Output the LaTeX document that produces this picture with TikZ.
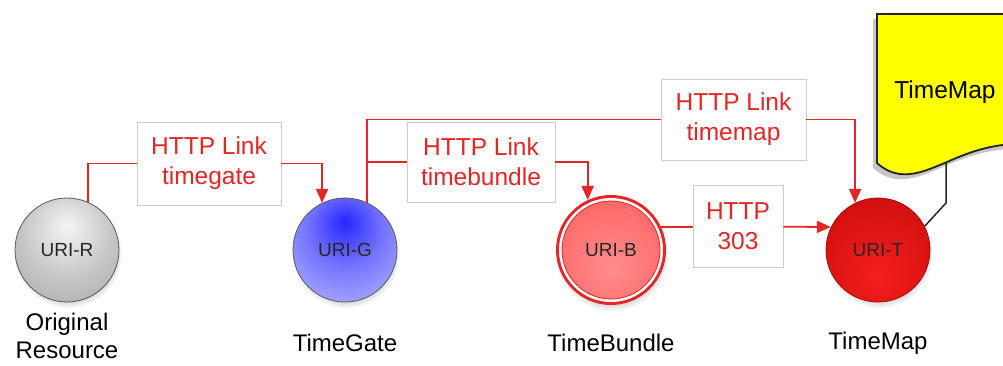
\documentclass[tikz,border=0pt]{standalone}
\usepackage{fontspec}
\setmainfont{Liberation Sans}
\usetikzlibrary{arrows.meta,shadows,calc}
\definecolor{lred}{RGB}{228,38,38}
\definecolor{boxgray}{RGB}{205,205,205}
\definecolor{docyel}{RGB}{255,255,0}
\definecolor{tcen}{RGB}{245,30,30}
\definecolor{tmid}{RGB}{215,18,18}
\definecolor{tedge}{RGB}{170,8,8}
\pgfdeclareradialshading{grayball}{\pgfpoint{0bp}{12bp}}{color(0bp)=(white!92!gray); color(22bp)=(gray!45); color(50bp)=(gray!80); color(70bp)=(gray!88)}
\pgfdeclareradialshading{blueball}{\pgfpoint{0bp}{14bp}}{color(0bp)=(blue!85!white); color(18bp)=(blue!55!white); color(45bp)=(blue!22!white); color(70bp)=(blue!18!white)}
\pgfdeclareradialshading{pinkball}{\pgfpoint{0bp}{-10bp}}{color(0bp)=(red!45!white); color(30bp)=(red!58!white); color(50bp)=(red!68!white); color(70bp)=(red!70!white)}
\pgfdeclareradialshading{redball}{\pgfpoint{0bp}{-14bp}}{color(0bp)=(tcen); color(28bp)=(tmid); color(55bp)=(tedge); color(70bp)=(tedge)}
\tikzset{
  uri/.style={circle, minimum size=104pt, inner sep=0pt, draw=gray!70!black, line width=0.8pt,
              font=\fontsize{19}{21}\selectfont, text=black!85,
              circular drop shadow={shadow xshift=1pt, shadow yshift=-4pt, shadow scale=1.04, opacity=0.35}},
  lbox/.style={rectangle, draw=boxgray, line width=0.8pt, fill=white, text=lred, align=center,
               font=\fontsize{24.5}{30}\selectfont, inner sep=0pt},
  lbl/.style={align=center, font=\fontsize{24}{30}\selectfont, text=black},
  rlink/.style={draw=lred, line width=1.8pt, -{Triangle[width=12pt,length=14pt]}},
  rline/.style={draw=lred, line width=1.8pt},
}
\begin{document}
\begin{tikzpicture}[x=1pt,y=-1pt]
\path[use as bounding box] (0,0) rectangle (1003,366);
\clip (0,0) rectangle (1003,366);
% document shape
\path[fill=docyel, draw=black!85, line width=1.8pt,
      drop shadow={shadow xshift=-4pt, shadow yshift=-5pt, opacity=0.45}]
  (877,14) -- (1012,14) -- (1012,144)
  .. controls (985,146) and (965,154) .. (947,162)
  .. controls (925,171) and (900,184) .. (877,163) -- cycle;
\node[font=\fontsize{24.5}{28}\selectfont] (docl) at (945,92) {TimeMap};
\coordinate (docb) at (946,163);
\coordinate (dock) at (946,203);
% circles
\node[uri, shading=grayball] (R) at (67,250) {URI-R};
\node[uri, shading=blueball] (G) at (345,250) {URI-G};
\node[circle, minimum size=110pt, inner sep=0pt, fill=lred,
      circular drop shadow={shadow xshift=1pt, shadow yshift=-4pt, shadow scale=1.04, opacity=0.35}] (B) at (611,250) {};
\node[circle, minimum size=104pt, inner sep=0pt, fill=white] (Bw) at (611,250) {};
\node[circle, minimum size=98pt, inner sep=0pt, shading=pinkball, draw=lred, line width=0.8pt,
      font=\fontsize{19}{21}\selectfont, text=black!85] (Bi) at (611,250) {URI-B};
\node[uri, shading=redball, draw=tedge] (T) at (878,250) {URI-T};
% bottom labels
\node[lbl, font=\fontsize{24}{28}\selectfont] (lR) at (67,336) {Original\\Resource};
\node[lbl] (lG) at (345,343) {TimeGate};
\node[lbl] (lB) at (611,343) {TimeBundle};
\node[lbl] (lT) at (878,343) {TimeMap};
% label boxes
\node[lbox, minimum width=144pt, minimum height=83pt] (tg) at (209,163.5) {HTTP Link\\timegate};
\node[lbox, minimum width=148pt, minimum height=80pt] (tb) at (481,162) {HTTP Link\\timebundle};
\node[lbox, minimum width=145pt, minimum height=81pt] (tm) at (733.5,119.5) {HTTP Link\\timemap};
\node[lbox, minimum width=90pt, minimum height=82pt] (h3) at (738,226.5) {HTTP\\303};
% connectors
\draw[rline] (R.66) |- (tg.west);
\draw[rlink] (tg.east) -| (G.116);
\draw[rline] (G.65) |- (tm.west);
\draw[rlink] (tm.east) -| (T.116);
\draw[rline] (G.65 |- tb.west) -- (tb.west);
\draw[rlink] (tb.east) -| (B.115);
\draw[rline] (B.25) -- (B.25 -| h3.west);
\draw[rlink] (B.25 -| h3.east) -- (T.154);
\draw[black!85, line width=1.5pt] (docb) -- (dock) -- (T.27);
\end{tikzpicture}
\end{document}
